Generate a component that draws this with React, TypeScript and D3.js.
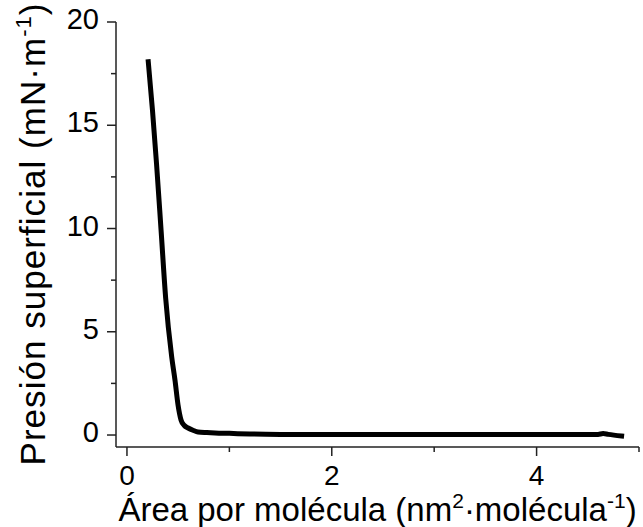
import React from "react";
import * as d3 from "d3";

const areaData = [0.208, 0.249, 0.289, 0.333, 0.378, 0.437, 0.469, 0.499, 0.528, 0.557, 0.597, 0.65, 0.694, 0.78, 0.86, 1.0, 1.2, 1.5, 2.0, 2.5, 3.0, 3.5, 4.0, 4.4, 4.6, 4.65, 4.7, 4.83];
const pressureData = [18.08, 15.74, 13.12, 9.93, 6.63, 3.78, 2.66, 1.45, 0.73, 0.48, 0.34, 0.22, 0.15, 0.12, 0.1, 0.08, 0.05, 0.03, 0.02, 0.02, 0.02, 0.02, 0.02, 0.02, 0.03, 0.07, 0.03, -0.05];

const xMajorTicks = [0, 2, 4];
const xMinorTicks = [1, 3, 5];
const yMajorTicks = [0, 5, 10, 15, 20];
const yMinorTicks = [2.5, 7.5, 12.5, 17.5];

const W = 643;
const H = 527;
const FONT = "'Liberation Sans', Arial, sans-serif";

export default function App() {
  const x = d3.scaleLinear().domain([-0.107, 5]).range([116, 639]);
  const y = d3.scaleLinear().domain([-0.58, 20]).range([447, 22]);
  const pts = areaData.map((a, i) => [a, pressureData[i]] as [number, number]);
  const line = d3
    .line<[number, number]>()
    .x((d) => x(d[0]))
    .y((d) => y(d[1]))
    .curve(d3.curveMonotoneX);
  const [x0, x1] = x.range();
  const [yb, yt] = y.range();
  const axisColor = "#222";
  return (
    <svg width={W} height={H} style={{ position: "absolute", left: 0, top: 0, background: "#fff" }} fontFamily={FONT}>
      <rect width={W} height={H} fill="#fff" />
      {/* axes */}
      <line x1={x0} x2={x0} y1={yt} y2={yb} stroke={axisColor} strokeWidth={1.5} />
      <line x1={x0} x2={x1} y1={yb} y2={yb} stroke={axisColor} strokeWidth={1.5} />
      {yMajorTicks.map((t) => (
        <g key={"ym" + t}>
          <line x1={x0 - 9} x2={x0} y1={y(t)} y2={y(t)} stroke={axisColor} strokeWidth={1.5} />
          <text x={x0 - 17} y={y(t) + 7} textAnchor="end" fontSize={29} fill="#000">
            {t}
          </text>
        </g>
      ))}
      {yMinorTicks.map((t) => (
        <line key={"yn" + t} x1={x0 - 5} x2={x0} y1={y(t)} y2={y(t)} stroke={axisColor} strokeWidth={1.5} />
      ))}
      {xMajorTicks.map((t) => (
        <g key={"xm" + t}>
          <line x1={x(t)} x2={x(t)} y1={yb} y2={yb + 9} stroke={axisColor} strokeWidth={1.5} />
          <text x={x(t)} y={yb + 38} textAnchor="middle" fontSize={28} fill="#000">
            {t}
          </text>
        </g>
      ))}
      {xMinorTicks.map((t) => (
        <line key={"xn" + t} x1={x(t)} x2={x(t)} y1={yb} y2={yb + 5} stroke={axisColor} strokeWidth={1.5} />
      ))}
      {/* data */}
      <path d={line(pts) || ""} fill="none" stroke="#000" strokeWidth={5} strokeLinejoin="round" strokeLinecap="square" />
      {/* titles */}
      <text x={(x0 + x1) / 2} y={521} textAnchor="middle" fontSize={33} fill="#000">
        Área por molécula (nm
        <tspan fontSize={21} dy={-13}>2</tspan>
        <tspan dy={13}>·molécula</tspan>
        <tspan fontSize={21} dy={-13}>-1</tspan>
        <tspan dy={13}>)</tspan>
      </text>
      <text
        transform={`translate(45, ${(yt + yb) / 2}) rotate(-90)`}
        textAnchor="middle"
        fontSize={35}
        fill="#000"
        textLength={462}
        lengthAdjust="spacing"
      >
        Presión superficial (mN·m
        <tspan fontSize={22} dy={-14}>-1</tspan>
        <tspan dy={14}>)</tspan>
      </text>
    </svg>
  );
}
